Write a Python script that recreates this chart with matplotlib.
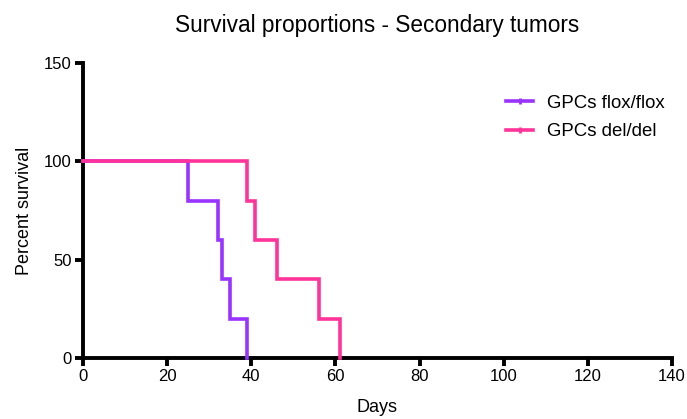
import matplotlib
matplotlib.use("Agg")
import matplotlib.pyplot as plt
from matplotlib.lines import Line2D

plt.rcParams['font.family'] = ['Liberation Sans', 'DejaVu Sans']

# Kaplan-Meier step data
flox_days = [0, 25, 32, 33, 35, 39]
flox_surv = [100, 80, 60, 40, 20, 0]
del_days = [0, 39, 41, 46, 56, 61]
del_surv = [100, 80, 60, 40, 20, 0]

series_names = ["GPCs flox/flox", "GPCs del/del"]
colors = ["#9933FF", "#FF3399"]

xticks = [0, 20, 40, 60, 80, 100, 120, 140]
yticks = [0, 50, 100, 150]

fig = plt.figure(figsize=(6.87, 4.19), dpi=100)
ax = fig.add_axes([83/687, 61/419, 589/687, 295/419])

for d, s, c in [(flox_days, flox_surv, colors[0]), (del_days, del_surv, colors[1])]:
    ax.step(d, s, where='post', color=c, lw=2.6, solid_joinstyle='miter', clip_on=False, zorder=3)

ax.set_xlim(0, 140)
ax.set_ylim(0, 150)
ax.set_xticks(xticks)
ax.set_yticks(yticks)
for side in ['top', 'right']:
    ax.spines[side].set_visible(False)
for side in ['left', 'bottom']:
    ax.spines[side].set_linewidth(2.8)
ax.tick_params(width=2.8, length=6, labelsize=12, pad=2)

ax.set_title("Survival proportions - Secondary tumors", fontsize=16.3, pad=22)
ax.set_xlabel("Days", fontsize=13, labelpad=11)
ax.set_ylabel("Percent survival", fontsize=13, labelpad=8)

handles = [Line2D([0], [0], color=c, lw=2.6, marker='|', markersize=5, markeredgewidth=2) for c in colors]
ax.legend(handles, series_names, loc='upper left', bbox_to_anchor=(0.69, 0.95), frameon=False,
          fontsize=13.4, handlelength=1.45, handletextpad=0.75, labelspacing=0.62)

fig.savefig("out.png", dpi=100)
